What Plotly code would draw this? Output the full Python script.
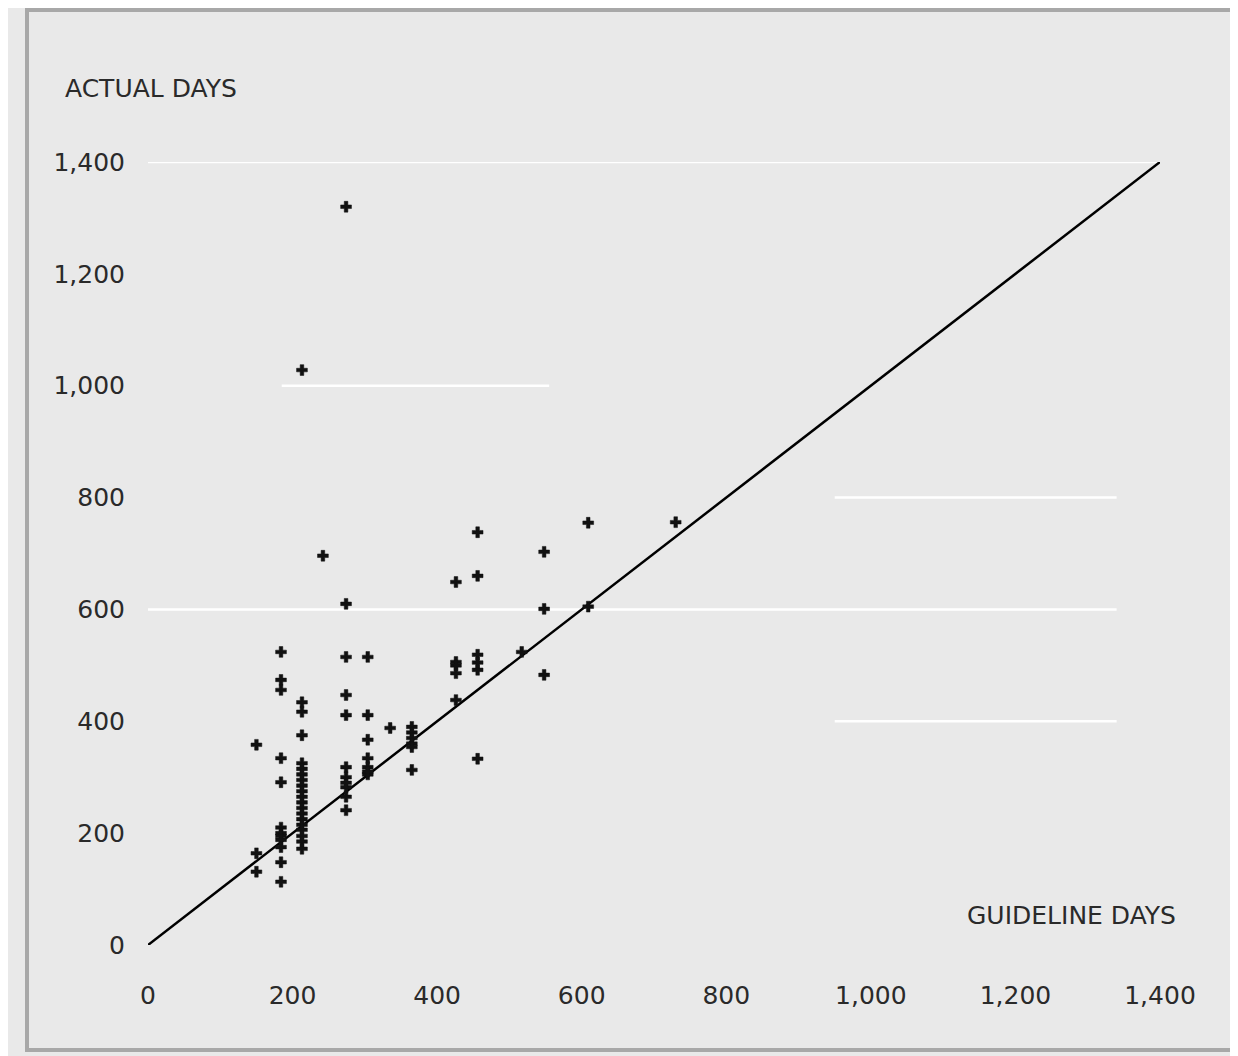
import plotly.graph_objects as go

# Guideline days (x) and actual days (y)
guideline_days = [
    150, 150, 150,
    184, 184, 184, 184, 184, 184, 184, 184, 184, 184, 184, 184,
    213, 213, 213, 213, 213, 213, 213, 213, 213, 213, 213, 213, 213, 213, 213, 213, 213, 213, 213, 213,
    242,
    274, 274, 274, 274, 274, 274, 274, 274, 274, 274, 274,
    304, 304, 304, 304, 304, 304, 304,
    335,
    365, 365, 365, 365, 365, 365,
    426, 426, 426, 426, 426,
    456, 456, 456, 456, 456, 456,
    517,
    548, 548, 548,
    609, 609,
    730,
]
actual_days = [
    358, 164, 131,
    524, 474, 456, 334, 291, 210, 200, 195, 188, 175, 148, 113,
    1028, 434, 417, 375, 325, 315, 305, 295, 285, 275, 265, 255, 245, 235, 225, 215, 206, 195, 185, 172,
    696,
    1320, 610, 515, 447, 411, 318, 300, 282, 265, 241, 290,
    515, 411, 367, 334, 318, 305, 310,
    388,
    390, 380, 370, 360, 354, 313,
    649, 506, 486, 500, 438,
    738, 660, 519, 492, 505, 333,
    524,
    703, 601, 483,
    755, 605,
    756,
]

parity_x = [0, 1400]
parity_y = [0, 1400]

tick_vals = [0, 200, 400, 600, 800, 1000, 1200, 1400]
tick_text = ["0", "200", "400", "600", "800", "1,000", "1,200", "1,400"]

font_family = "DejaVu Sans, Roboto, sans-serif"
bg = "#e9e9e9"

# page offset of 8px (body margin) -> figure spans 8..1238, 8..1056
OFF = 8
W, H = 1238 - OFF, 1056 - OFF
L, R, T, B = 148 - OFF, 1238 - 1160, 162 - OFF, 1056 - 945
PW, PH = 1160 - 148, 945 - 162


def px(xp):
    return (xp - 148) / PW


def py(yp):
    return (945 - yp) / PH


fig = go.Figure()

fig.add_trace(go.Scatter(
    x=parity_x, y=parity_y, mode="lines",
    line=dict(color="black", width=2.5),
    showlegend=False, hoverinfo="skip", cliponaxis=False,
))

fig.add_trace(go.Scatter(
    x=guideline_days, y=actual_days, mode="markers",
    marker=dict(symbol="cross", size=9, color="#111111",
                line=dict(width=0.5, color="#111111")),
    showlegend=False, cliponaxis=False,
))

# faint white gridline segments as seen in the reference
grid_segments = [
    (-10, 1400, 1400),
    (185, 555, 1000),
    (950, 1340, 800),
    (0, 1340, 600),
    (950, 1340, 400),
]
for x0, x1, yv in grid_segments:
    fig.add_shape(type="line", xref="x", yref="y", x0=x0, x1=x1, y0=yv, y1=yv,
                  line=dict(color="white", width=2.5), layer="below")

# outer frame
fig.add_shape(type="rect", xref="paper", yref="paper",
              x0=px(27), x1=px(1233),
              y0=py(1050), y1=py(10),
              line=dict(color="#a8a8a8", width=4), layer="below")

fig.add_annotation(text="ACTUAL DAYS", xref="paper", yref="paper",
                   x=px(63), y=py(88),
                   xanchor="left", yanchor="middle", showarrow=False,
                   font=dict(family=font_family, size=25, color="#2a2a2a"))
fig.add_annotation(text="GUIDELINE DAYS", xref="paper", yref="paper",
                   x=px(1178), y=py(915),
                   xanchor="right", yanchor="middle", showarrow=False,
                   font=dict(family=font_family, size=25, color="#2a2a2a"))

fig.update_layout(
    width=W, height=H,
    margin=dict(l=L, r=R, t=T, b=B),
    paper_bgcolor=bg, plot_bgcolor=bg,
    font=dict(family=font_family, size=25, color="#2a2a2a"),
    xaxis=dict(range=[0, 1400], tickvals=tick_vals, ticktext=tick_text,
               showgrid=False, zeroline=False, showline=False,
               ticks="", ticklabelstandoff=33),
    yaxis=dict(range=[0, 1400], tickvals=tick_vals, ticktext=tick_text,
               showgrid=False, zeroline=False, showline=False,
               ticks="", ticklabelstandoff=22),
)

fig.write_html("out.html")
